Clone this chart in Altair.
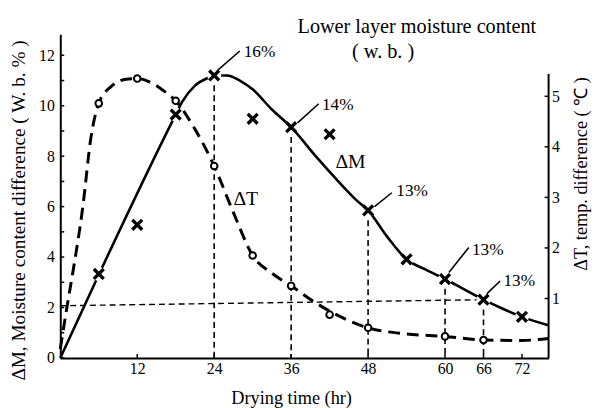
import altair as alt
import pandas as pd

# ---------------- data ----------------
# Measured moisture-content difference (crosses), hr -> dM (% w.b.)
dm_hours = [6, 12, 18, 24, 30, 36, 42, 48, 54, 60, 66, 72]
dm_values = [3.33, 5.28, 9.65, 11.2, 9.48, 9.15, 8.87, 5.85, 3.91, 3.13, 2.31, 1.63]

# Smoothed dM curve (solid line)
dm_curve_hours = [0, 6, 18, 19, 21, 23, 24, 26, 28, 30, 33, 36, 40, 43, 46, 48, 51, 54, 57, 60, 63, 66, 69, 72, 76.1]
dm_curve_values = [0, 3.3, 9.65, 10.15, 10.8, 11.1, 11.2, 11.2, 11.0, 10.65, 9.85, 9.15, 7.95, 7.1, 6.3, 5.85, 4.8, 3.91, 3.5, 3.13, 2.72, 2.31, 1.95, 1.63, 1.3]

# Measured temperature difference (circles), hr -> dT (deg C)
dt_hours = [6, 12, 18, 24, 30, 36, 42, 48, 60, 66]
dt_values = [4.86, 5.35, 4.91, 3.62, 1.85, 1.25, 0.68, 0.42, 0.25, 0.18]

# Smoothed dT curve (dashed line)
dt_curve_hours = [0, 1, 2, 3.5, 4.8, 6, 8, 10, 12, 14, 16, 18, 21, 24, 27, 30, 33, 36, 40, 44, 48, 54, 60, 66, 72, 76.1]
dt_curve_values = [0, 0.8, 1.55, 2.8, 4.2, 4.86, 5.2, 5.33, 5.35, 5.28, 5.12, 4.91, 4.35, 3.62, 2.7, 1.85, 1.5, 1.25, 0.9, 0.62, 0.42, 0.3, 0.25, 0.18, 0.17, 0.21]

# Dashed drop lines from the labelled points
drop_hours = [24, 36, 48, 60, 66]
drop_tops = [11.2, 9.15, 5.85, 3.13, 2.31]

# Dashed guide line (hr, dM) -> (hr2, dM2)
guide = {"x": [0], "y": [2.07], "x2": [66], "y2": [2.31]}

# Percent labels and their leader lines
pct_text = ["16%", "14%", "13%", "13%", "13%"]
pct_x = [28.6, 40.8, 52.4, 64.2, 69.1]
pct_y = [12.13, 10.04, 6.62, 4.28, 3.04]
lead_x = [24.3, 37.0, 49.0, 60.6, 66.5]
lead_y = [11.35, 9.32, 6.0, 3.39, 2.54]
lead_x2 = [28.0, 40.3, 51.7, 63.7, 68.6]
lead_y2 = [12.17, 10.08, 6.55, 4.38, 3.05]

# Other texts
note_text = ["ΔM", "ΔT"]
note_x = [42.9, 27.0]
note_y = [7.76, 6.3]
head_text = ["Lower layer moisture content", "(  w.  b.  )"]
head_x = [37.0, 45.5]
head_y = [13.12, 12.13]

x_ticks = [12, 24, 36, 48, 60, 66, 72]
dm_ticks = list(range(0, 13))
dt_ticks = [1, 2, 3, 4, 5]

X_MAX = 76.15
DM_DOMAIN = [0, 12.83]
DT_DOMAIN = [-0.176, 6.224]
W, H = 495, 328
FONT = "Liberation Serif"

# ---------------- tables ----------------
dm_pts = pd.DataFrame({"hr": dm_hours, "v": dm_values})
dm_curve = pd.DataFrame({"hr": dm_curve_hours, "v": dm_curve_values})
dt_pts = pd.DataFrame({"hr": dt_hours, "v": dt_values})
dt_curve = pd.DataFrame({"hr": dt_curve_hours, "v": dt_curve_values})
drops = pd.DataFrame({"hr": drop_hours, "v": drop_tops, "bot": [0] * len(drop_hours)})
guide_df = pd.DataFrame({"hr": guide["x"], "v": guide["y"], "x2": guide["x2"], "y2": guide["y2"]})
pct_df = pd.DataFrame({"t": pct_text, "hr": pct_x, "v": pct_y})
lead_df = pd.DataFrame({"hr": lead_x, "v": lead_y, "x2": lead_x2, "y2": lead_y2})
note_df = pd.DataFrame({"t": note_text, "hr": note_x, "v": note_y})
head_df = pd.DataFrame({"t": head_text, "hr": head_x, "v": head_y})
xt_df = pd.DataFrame({"hr": x_ticks})
dmt_df = pd.DataFrame({"v": dm_ticks})
dtt_df = pd.DataFrame({"v": dt_ticks})

xs = alt.Scale(domain=[0, X_MAX], nice=False, zero=False)
ys = alt.Scale(domain=DM_DOMAIN, nice=False, zero=False)
ts = alt.Scale(domain=DT_DOMAIN, nice=False, zero=False)

X_AXIS = alt.Axis(
    values=x_ticks, title="Drying time (hr)", grid=False, tickSize=0,
    domainColor="black", domainWidth=2, labelPadding=3,
    labelFont=FONT, labelFontSize=16, labelColor="black",
    titleFont=FONT, titleFontSize=18.5, titleFontWeight="normal", titleColor="black",
    titleX=234, titleY=40, titleBaseline="middle", titleAlign="center",
)
DM_AXIS = alt.Axis(
    values=dm_ticks, labelExpr="datum.value % 2 == 0 ? datum.label : ''",
    title="ΔM, Moisture content difference ( W. b. % )", grid=False, tickSize=0,
    domainColor="black", domainWidth=2, labelPadding=6,
    labelFont=FONT, labelFontSize=16, labelColor="black",
    titleFont=FONT, titleFontSize=19.5, titleFontWeight="normal", titleColor="black",
    titleX=-42, titleY=178, titleAngle=270, titleAlign="center", titleBaseline="middle",
)
DT_AXIS = alt.Axis(
    values=dt_ticks, orient="right", title="ΔT,  temp.  difference   (  ℃  )",
    grid=False, tickSize=0, domain=False, labelPadding=3,
    labelFont=FONT, labelFontSize=16, labelColor="black",
    titleFont=FONT, titleFontSize=18.5, titleFontWeight="normal", titleColor="black",
    titleX=32, titleY=141, titleAngle=270, titleAlign="center", titleBaseline="middle",
)

DASH = [6, 4]

def X(field="hr"):
    return alt.X(f"{field}:Q", scale=xs)

def YM(field="v"):
    return alt.Y(f"{field}:Q", scale=ys)

def YT(field="v"):
    return alt.Y(f"{field}:Q", scale=ts)

# ---------------- dM group ----------------
dm_line = alt.Chart(dm_curve).mark_line(color="black", strokeWidth=2.6, interpolate="monotone").encode(
    x=alt.X("hr:Q", scale=xs, axis=X_AXIS),
    y=alt.Y("v:Q", scale=ys, axis=DM_AXIS),
)
drop_rules = alt.Chart(drops).mark_rule(color="black", strokeWidth=1.6, strokeDash=DASH).encode(
    x=X(), y=YM(), y2="bot:Q",
)
guide_rule = alt.Chart(guide_df).mark_rule(color="black", strokeWidth=1.4, strokeDash=DASH).encode(
    x=X(), x2="x2:Q", y=YM(), y2="y2:Q",
)
leaders = alt.Chart(lead_df).mark_rule(color="black", strokeWidth=1.6).encode(
    x=X(), x2="x2:Q", y=YM(), y2="y2:Q",
)
XPATH = "M-1,-1L1,1M-1,1L1,-1"
halo = alt.Chart(dm_pts).mark_point(shape="circle", filled=True, color="white", size=200, opacity=1).encode(
    x=X(), y=YM(),
)
crosses = alt.Chart(dm_pts).mark_point(shape=XPATH, filled=False, color="black", strokeWidth=3.4, size=100, opacity=1).encode(
    x=X(), y=YM(),
)
pct_labels = alt.Chart(pct_df).mark_text(font=FONT, fontSize=17.5, align="left", baseline="middle", color="black").encode(
    x=X(), y=YM(), text="t:N",
)
notes = alt.Chart(note_df).mark_text(font=FONT, fontSize=20, align="left", baseline="middle", color="black").encode(
    x=X(), y=YM(), text="t:N",
)
heads = alt.Chart(head_df).mark_text(font=FONT, fontSize=20.5, align="left", baseline="middle", color="black").encode(
    x=X(), y=YM(), text="t:N",
)
dm_ticks_marks = alt.Chart(dmt_df).mark_rule(color="black", strokeWidth=1.5).encode(
    x=alt.value(0), x2=alt.value(4), y=YM(),
)
x_ticks_marks = alt.Chart(xt_df).mark_rule(color="black", strokeWidth=1.5).encode(
    x=X(), y=alt.value(H), y2=alt.value(H - 4),
)

dm_group = alt.layer(dm_line, drop_rules, guide_rule, leaders, halo, crosses,
                     pct_labels, notes, heads, dm_ticks_marks, x_ticks_marks)

# ---------------- dT group ----------------
dt_line = alt.Chart(dt_curve).mark_line(color="black", strokeWidth=3, strokeDash=[12, 7], interpolate="monotone").encode(
    x=X(),
    y=alt.Y("v:Q", scale=ts, axis=DT_AXIS),
)
circles = alt.Chart(dt_pts).mark_point(shape="circle", fill="white", stroke="black", strokeWidth=2, size=45, opacity=1).encode(
    x=X(), y=YT(),
)
dt_ticks_marks = alt.Chart(dtt_df).mark_rule(color="black", strokeWidth=1.5).encode(
    x=alt.value(W - 4), x2=alt.value(W), y=YT(),
)
right_axis_line = alt.Chart(pd.DataFrame({"v": [DT_DOMAIN[0]], "b": [5.44]})).mark_rule(color="black", strokeWidth=2).encode(
    x=alt.value(W), y=YT(), y2="b:Q",
)
dt_group = alt.layer(dt_line, circles, dt_ticks_marks, right_axis_line)

chart = alt.layer(dm_group, dt_group).resolve_scale(y="independent").properties(
    width=W, height=H,
    padding={"left": 53, "top": 24, "right": 44, "bottom": 48},
    autosize=alt.AutoSizeParams(type="none"),
    background="white",
).configure_view(stroke=None)

chart.save("out.html", embed_options={"renderer": "svg", "actions": False})
